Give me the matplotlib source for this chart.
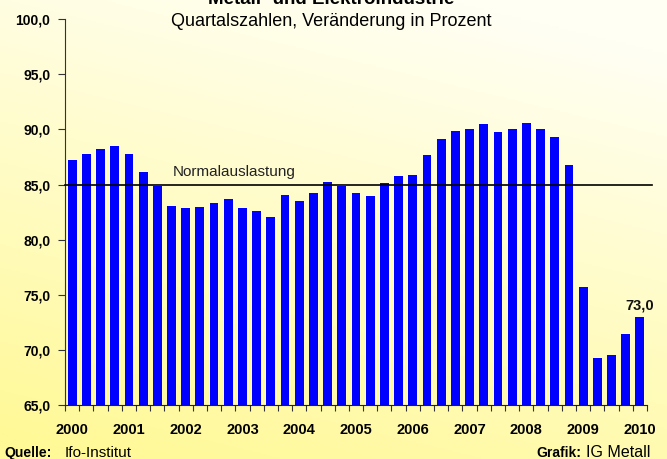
import numpy as np
import matplotlib
matplotlib.use("Agg")
from matplotlib import pyplot as plt

plt.rcParams["font.family"] = ["Liberation Sans", "DejaVu Sans"]

# Kapazitaetsauslastung, Quartale 2000 Q1 .. 2010 Q1
values = [
    87.2, 87.8, 88.2, 88.5,
    87.8, 86.1, 84.9, 83.1,
    82.9, 83.0, 83.3, 83.7,
    82.9, 82.6, 82.1, 84.1,
    83.5, 84.2, 85.2, 84.9,
    84.2, 84.0, 85.1, 85.8,
    85.9, 87.7, 89.1, 89.9,
    90.0, 90.5, 89.8, 90.0,
    90.6, 90.0, 89.3, 86.8,
    75.7, 69.3, 69.6, 71.5,
    73.0,
]
years = ["2000", "2001", "2002", "2003", "2004", "2005",
         "2006", "2007", "2008", "2009", "2010"]
y_ticks = [65, 70, 75, 80, 85, 90, 95, 100]
normal_level = 85.0


def de_fmt(v):
    return ("%.1f" % v).replace(".", ",")


fig = plt.figure(figsize=(6.67, 4.59), dpi=100)

# background gradient: yellow at the bottom(-left), almost white at the top
bg = fig.add_axes([0, 0, 1, 1], zorder=-10)
gx, gy = np.meshgrid(np.linspace(0, 1, 300), np.linspace(0, 1, 200))
t = np.clip(gx * 0.3 + (1 - gy) * 0.85 - 0.05, 0, 1)  # 1 = light
c0 = np.array([255, 249, 152]) / 255.0
c1 = np.array([255, 255, 244]) / 255.0
img = c0[None, None, :] * (1 - t[..., None]) + c1[None, None, :] * t[..., None]
bg.imshow(img, origin="upper", aspect="auto", extent=[0, 1, 0, 1])
bg.axis("off")

ax = fig.add_axes([0.0975, 0.117, 0.8725, 0.8415])
ax.patch.set_alpha(0)

x = np.arange(len(values))
ax.bar(x, values, width=0.62, color="#0000FF", zorder=2)
ax.set_xlim(-0.5, len(values) - 0.5)
ax.set_ylim(65, 100)

ax.plot([-0.5, len(values) - 0.15], [normal_level, normal_level],
        color="black", lw=1.2, zorder=3, clip_on=False)
ax.text(11.4, normal_level + 0.55, "Normalauslastung", fontsize=11,
        color="#222222", ha="center", va="bottom")

ax.text(x[-1], values[-1] + 0.4, de_fmt(values[-1]), fontsize=10.5,
        fontweight="bold", ha="center", va="bottom", color="#111111")

ax.set_yticks(y_ticks)
ax.set_yticklabels([de_fmt(v) for v in y_ticks], fontsize=10,
                   fontweight="bold")
ax.tick_params(axis="y", direction="out", length=5, color="#333333", pad=5.5)

ax.set_xticks(np.arange(-0.5, len(values), 1.0))
ax.set_xticklabels([])
ax.tick_params(axis="x", direction="out", length=4, color="#333333")
for i, yr in enumerate(years):
    ax.text(i * 4, 62.8, yr, fontsize=10.5, fontweight="bold",
            ha="center", va="center")

for s in ["top", "right"]:
    ax.spines[s].set_visible(False)
ax.spines["left"].set_color("#333333")
ax.spines["bottom"].set_color("#222222")

fig.text(0.497, 0.991, "Metall- und Elektroindustrie", fontsize=13.5,
         fontweight="bold", ha="center", va="baseline")
fig.text(0.497, 0.943, "Quartalszahlen, Veränderung in Prozent", fontsize=13,
         ha="center", va="baseline")

fig.text(0.006, 0.004, "Quelle:", fontsize=10, fontweight="bold",
         ha="left", va="baseline")
fig.text(0.097, 0.004, "Ifo-Institut", fontsize=11, ha="left", va="baseline")
fig.text(0.879, 0.004, "IG Metall", fontsize=11.5, ha="left", va="baseline")
fig.text(0.872, 0.004, "Grafik:", fontsize=10, fontweight="bold",
         ha="right", va="baseline")

fig.savefig("out.png", dpi=100)
